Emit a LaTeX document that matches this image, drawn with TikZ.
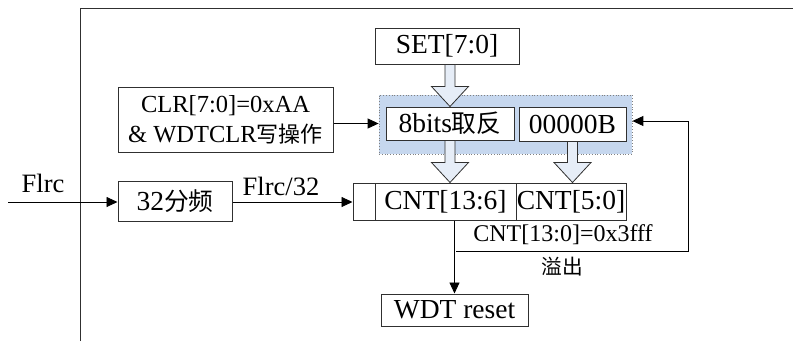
\documentclass[tikz,border=0pt]{standalone}
\usepackage{fontspec}
\setmainfont{Liberation Serif}
\newfontfamily\cjk{Noto Sans CJK SC}[Scale=0.9]
\usetikzlibrary{arrows.meta,calc}
\definecolor{grpblue}{HTML}{C6D7EE}
\definecolor{arrfill}{HTML}{E6EDF7}
\definecolor{boxline}{HTML}{303030}
\newcommand\blockarr[2]{%
  \draw[barrow] let \p1=(#1), \p2=(#2) in
    (\x2-5pt,\y1) -- (\x2-5pt,\y2+20pt) -- (\x2-18.5pt,\y2+20pt) -- (\x2,\y2)
    -- (\x2+18.5pt,\y2+20pt) -- (\x2+5pt,\y2+20pt) -- (\x2+5pt,\y1) -- cycle;}
\begin{document}
\begin{tikzpicture}[x=1pt,y=-1pt,
  box/.style={draw=boxline, line width=1pt, fill=white, inner sep=0pt,
    font=\fontsize{27.5}{30}\selectfont},
  lbl/.style={inner sep=0pt, font=\fontsize{26.5}{30}\selectfont},
  conn/.style={draw=black, line width=0.9pt, -{Triangle[length=11pt,width=10pt]}},
  barrow/.style={draw=boxline, line width=0.8pt, fill=arrfill},
  grp/.style={draw=gray, dotted, line width=0.8pt, fill=grpblue, inner sep=0pt}]
\useasboundingbox (0,0) rectangle (793,341);
% frame
\draw[line width=0.9pt, draw=boxline] (80,341) -- (80,8) -- (793,8);
% nodes
\node[box, minimum width=144pt, minimum height=36pt] (set) at (447,46) {SET[7:0]};
\node[grp, minimum width=253pt, minimum height=59pt] (grp) at (505.5,124.5) {};
\node[box, minimum width=128pt, minimum height=33pt] (bits) at (450,123.5) {8bits{\cjk 取反}};
\node[box, minimum width=107pt, minimum height=34pt] (zero) at (572.5,124) {00000B};
\node[box, minimum width=22pt, minimum height=37pt] (c0) at (364,201.5) {};
\node[box, minimum width=141pt, minimum height=37pt] (c1) at (445.5,201.5) {CNT[13:6]};
\node[box, minimum width=110pt, minimum height=37pt] (c2) at (571,201.5) {CNT[5:0]};
\node[box, minimum width=215pt, minimum height=65pt, align=center,
  font=\fontsize{24.5}{30}\selectfont] (clr) at (225.5,119.5)
  {CLR[7:0]=0xAA\\\& WDTCLR{\cjk 写操作}};
\node[box, minimum width=114pt, minimum height=40pt] (div) at (175,201) {32{\cjk 分频}};
\node[box, minimum width=147pt, minimum height=32pt] (wdt) at (454.5,310) {WDT reset};
% labels
\node[lbl] (flrc) at (43,183) {Flrc};
\node[lbl] (flrc32) at (281,186) {Flrc/32};
\node[lbl, font=\fontsize{24}{26}\selectfont] (ovl) at (563,235) {CNT[13:0]=0x3fff};
\node[lbl, font=\fontsize{23}{26}\selectfont] (ovc) at (562,267) {\cjk 溢出};
% block arrows
\blockarr{set.south}{bits.north}
\blockarr{bits.south}{$(bits.south |- c1.north)$}
\blockarr{zero.south}{$(zero.south |- c2.north)$}
% connectors
\coordinate (in) at (8,202);
\draw[conn] (in) -- (div.west |- in);
\draw[conn] (div.east |- in) -- (c0.west |- in);
\draw[conn] (clr.east |- bits.west) -- (grp.west |- bits.west);
\draw[conn] (wdt.north |- c1.south) -- (wdt.north);
\coordinate (ov) at (456,251);
\coordinate (fb) at (688,251);
\coordinate (fbt) at (688,121);
\draw[conn] (ov) -- (fb) -- (fbt) -- (grp.east |- fbt);
\end{tikzpicture}
\end{document}
